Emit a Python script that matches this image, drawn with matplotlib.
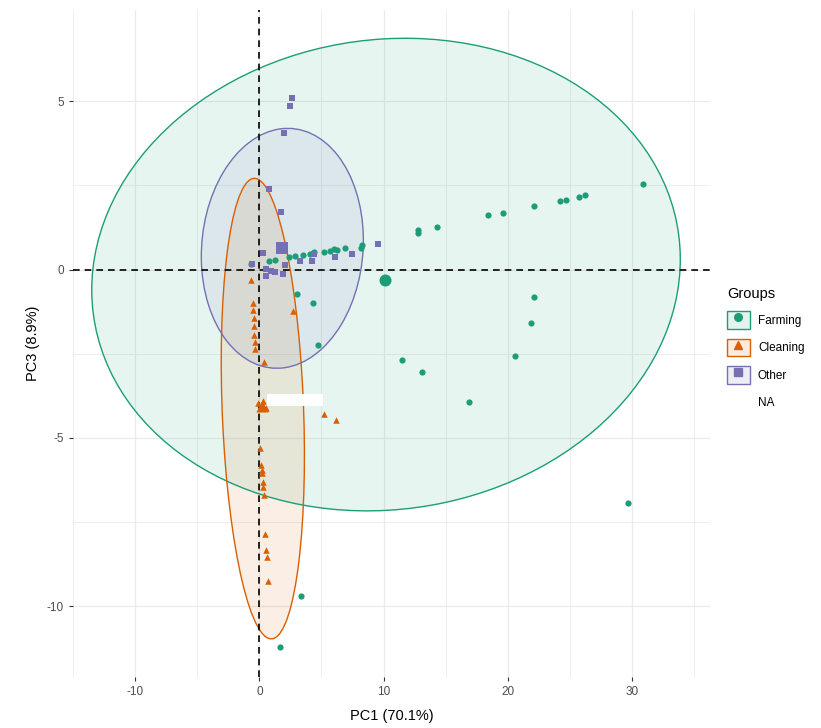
import matplotlib
matplotlib.use('Agg')
import matplotlib.pyplot as plt
import numpy as np
from matplotlib.patches import Ellipse, Patch, Rectangle
from matplotlib.lines import Line2D
from matplotlib.legend_handler import HandlerTuple

plt.rcParams['font.family'] = ['Liberation Sans', 'DejaVu Sans']
plt.rcParams['axes.unicode_minus'] = False

# individual scores (PC1, PC3)
farming_x = [30.9, 26.2, 25.75, 24.7, 24.2, 22.1, 19.6, 18.4, 14.3, 12.8, 12.8,
             8.23, 8.15, 6.88, 6.27, 6.0, 5.67, 5.19, 4.4, 4.1, 3.5, 2.9, 2.37, 1.29, 0.81, -0.65,
             3.0, 4.35, 4.7, 22.1, 21.9, 20.6, 11.5, 13.1, 16.9, 29.7, 3.36, 1.64]
farming_y = [2.55, 2.2, 2.15, 2.06, 2.02, 1.88, 1.67, 1.62, 1.26, 1.16, 1.08,
             0.74, 0.64, 0.64, 0.57, 0.6, 0.55, 0.51, 0.52, 0.45, 0.43, 0.39, 0.37, 0.29, 0.25, 0.16,
             -0.74, -1.0, -2.24, -0.82, -1.59, -2.56, -2.7, -3.05, -3.94, -6.92, -9.7, -11.2]

cleaning_x = [-0.67, -0.5, -0.5, -0.46, -0.46, -0.4, -0.32, -0.32, 0.35, 2.69,
              -0.1, 0.5, 0.3, 5.19, 6.2, 0.08, 0.16, 0.2, 0.22, 0.28, 0.3, 0.35,
              0.46, 0.54, 0.59, 0.7]
cleaning_y = [-0.31, -1.0, -1.2, -1.44, -1.69, -1.93, -2.16, -2.35, -2.74, -1.23,
              -3.95, -4.1, -3.9, -4.28, -4.46, -5.31, -5.8, -5.95, -6.05, -6.3, -6.47, -6.69,
              -7.86, -8.32, -8.55, -9.24]

other_x = [2.63, 2.5, 1.96, 0.81, 1.77, 0.3, -0.59, 0.56, 0.94, 0.56, 1.29, 1.88,
           2.04, 3.3, 4.25, 4.4, 6.13, 7.42, 9.57]
other_y = [5.08, 4.85, 4.05, 2.38, 1.71, 0.49, 0.15, 0.01, -0.04, -0.2, -0.07, -0.12,
           0.13, 0.25, 0.25, 0.45, 0.37, 0.45, 0.76]

# group means
groups = ['Farming', 'Cleaning', 'Other']
mean_x = [10.1, 0.21, 1.85]
mean_y = [-0.31, -4.04, 0.65]

# ellipses: centre, full width, full height, angle (deg)
ell_cx = [10.2, 0.28, 1.85]
ell_cy = [-0.15, -4.13, 0.63]
ell_w = [47.4, 13.76, 13.06]
ell_h = [14.0, 6.52, 7.1]
ell_ang = [1.2, 97.3, 3.0]

# white box that hides a label
box_x, box_y, box_w, box_h = 0.65, -4.05, 4.5, 0.36

colors = ['#1B9E77', '#D95F02', '#7570B3']
markers = ['o', '^', 's']

fig = plt.figure(figsize=(8.21, 7.28), dpi=100)
ax = fig.add_axes([0.089, 0.070, 0.776, 0.916])

# ellipses
for i in range(3):
    e = Ellipse((ell_cx[i], ell_cy[i]), ell_w[i], ell_h[i], angle=ell_ang[i],
                facecolor=colors[i], alpha=0.1, edgecolor='none', zorder=1)
    ax.add_patch(e)
    e2 = Ellipse((ell_cx[i], ell_cy[i]), ell_w[i], ell_h[i], angle=ell_ang[i],
                 facecolor='none', edgecolor=colors[i], lw=1.0, zorder=2)
    ax.add_patch(e2)

ax.axhline(0, color='black', ls=(0, (4, 3)), lw=1.2, zorder=3)
ax.axvline(0, color='black', ls=(0, (4, 3)), lw=1.2, zorder=3)

ax.scatter(farming_x, farming_y, s=20, marker='o', color=colors[0], zorder=4, linewidths=0)
ax.scatter(cleaning_x, cleaning_y, s=22, marker='^', color=colors[1], zorder=4, linewidths=0)
ax.scatter(other_x, other_y, s=22, marker='s', color=colors[2], zorder=4, linewidths=0)

# group means, bigger
for i in range(3):
    ax.scatter([mean_x[i]], [mean_y[i]], s=75, marker=markers[i], color=colors[i], zorder=5, linewidths=0)

ax.add_patch(Rectangle((box_x, box_y), box_w, box_h, facecolor='white', edgecolor='none', zorder=6))

ax.set_xlim(-15.0, 36.3)
ax.set_ylim(-12.1, 7.7)
ax.set_xticks([-10, 0, 10, 20, 30])
ax.set_yticks([-10, -5, 0, 5])
ax.set_xticks([-15, -5, 5, 15, 25, 35], minor=True)
ax.set_yticks([-7.5, -2.5, 2.5], minor=True)
ax.grid(which='major', color='#EBEBEB', lw=0.9)
ax.grid(which='minor', color='#EBEBEB', lw=0.6)
ax.set_axisbelow(True)
for s in ax.spines.values():
    s.set_visible(False)
ax.tick_params(which='major', length=3, width=0.8, color='#333333', labelcolor='#4D4D4D', labelsize=8.5)
ax.tick_params(which='minor', length=0)
ax.set_xlabel('PC1 (70.1%)', fontsize=10.5, labelpad=8)
ax.set_ylabel('PC3 (8.9%)', fontsize=10.5, labelpad=5)

# legend
handles = []
for i in range(3):
    handles.append((Patch(facecolor=matplotlib.colors.to_rgba(colors[i], 0.12), edgecolor=colors[i], lw=1.0),
                    Line2D([], [], marker=markers[i], color=colors[i], ls='', markersize=5.5)))
handles.append(Patch(facecolor='none', edgecolor='none'))
leg = fig.legend(handles, groups + ['NA'], title='Groups', loc='upper left',
                 bbox_to_anchor=(0.880, 0.612), frameon=False, fontsize=8.5,
                 title_fontsize=10.5, handlelength=1.9, handleheight=1.9, labelspacing=0.85,
                 handletextpad=0.7, borderaxespad=0,
                 handler_map={tuple: HandlerTuple(ndivide=1, pad=0)})
leg._legend_box.align = 'left'

fig.savefig('out.png', dpi=100)
